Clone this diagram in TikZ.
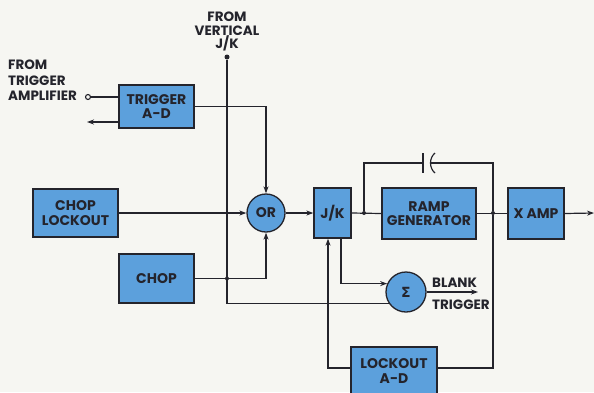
\documentclass[tikz,border=0pt]{standalone}
\usepackage{fontspec}
\setmainfont{Poppins}
\newfontfamily\dejavu{DejaVu Sans}
\usetikzlibrary{arrows.meta}
\definecolor{bg}{RGB}{246,246,242}
\definecolor{boxblue}{RGB}{92,160,220}
\definecolor{ink}{RGB}{36,36,44}
\tikzset{
  blk/.style={draw=ink, line width=1.3pt, fill=boxblue, text=ink, align=center,
    font=\bfseries\fontsize{14}{14.5}\selectfont, inner sep=0pt},
  rnd/.style={blk, circle, minimum size=38pt},
  wire/.style={draw=ink, line width=1.2pt},
  arr/.style={wire, -{Stealth[length=7pt,width=5pt]}},
  lbl/.style={text=ink, font=\bfseries\fontsize{13.5}{15.5}\selectfont, inner sep=0pt},
  jdot/.style={circle, fill=ink, inner sep=0pt, minimum size=4pt},
}
\begin{document}
\begin{tikzpicture}[x=1pt,y=-1pt]
\useasboundingbox (0,0) rectangle (594,392);
\fill[bg] (0,0) rectangle (594,392);
% boxes
\node[blk, minimum width=75pt, minimum height=43pt] (trig) at (156.5,106.5) {TRIGGER\\A-D};
\node[blk, minimum width=85pt, minimum height=48pt] (cl) at (75.5,213) {CHOP\\LOCKOUT};
\node[blk, minimum width=75pt, minimum height=49pt] (chop) at (156.5,278.5) {CHOP};
\node[rnd] (or) at (266,213) {OR};
\node[blk, minimum width=37pt, minimum height=50pt] (jk) at (332.5,213) {J/K};
\node[blk, minimum width=94pt, minimum height=51pt] (ramp) at (429,213.5) {RAMP\\GENERATOR};
\node[blk, minimum width=56pt, minimum height=51pt] (xamp) at (536,213.5) {X AMP};
\node[rnd, minimum size=40pt] (sig) at (406,292) {\dejavu\bfseries Σ};
\node[blk, minimum width=86pt, minimum height=48pt] (lock) at (394,371) {LOCKOUT\\A-D};
% labels
\node[lbl, align=left, anchor=north west] (ltrig) at (8,60) {FROM\\TRIGGER\\AMPLIFIER};
\node[lbl, align=center, anchor=north, font=\bfseries\fontsize{13.5}{13.5}\selectfont] (lvert) at (227,12) {FROM\\VERTICAL\\J/K};
\node[lbl, anchor=west] (lblank) at (432,283) {BLANK};
\node[lbl, anchor=west] (ltrg) at (432,305) {TRIGGER};
% terminals
\node[circle, draw=ink, line width=1.1pt, fill=bg, inner sep=0pt, minimum size=5pt] (tin) at (88,97) {};
\coordinate (tout) at (87,122);
\node[jdot, minimum size=5pt] (vdot) at (227,57) {};
\coordinate (xout) at (594,213);
\coordinate (sout) at (478,292);
% connectors
\draw[wire] (tin) -- (tin -| trig.west);
\draw[arr] (tout -| trig.west) -- (tout);
\draw[wire] (vdot) |- (sig.213);
\draw[arr] (trig.east) -| (or.north);
\draw[arr] (cl.east) -- (or.west);
\draw[arr] (chop.east) -| (or.south);
\node[jdot] (d0) at (vdot |- chop.east) {};
\draw[arr] (or.east) -- (jk.west);
\draw[wire] (jk.east) -- (ramp.west);
\node[jdot] (d1) at (364,213) {};
\node[jdot] (d2) at (493,213) {};
\draw[wire] (ramp.east) -- (xamp.west);
\draw[arr] (xamp.east) -- (xout);
% capacitor feedback
\coordinate (c1) at (423,163);
\coordinate (c2) at (431,163);
\draw[wire] (d1) |- (c1);
\draw[wire] (c1) ++(0,-10) -- ++(0,20);
\draw[wire] (435,153) .. controls (429,158) and (429,168) .. (435,173);
\draw[wire] (c2) -| (d2);
% lockout
\draw[wire] (d2) |- ([yshift=3pt]lock.east);
\draw[arr] ([yshift=3pt]lock.west) -| ([xshift=-4.5pt]jk.south);
\draw[arr] ([xshift=8.5pt]jk.south) |- (sig.156);
\draw[arr] (sig.east) -- (sout);
\end{tikzpicture}
\end{document}
